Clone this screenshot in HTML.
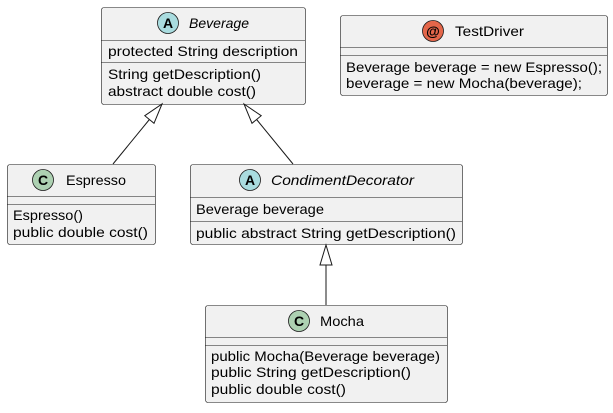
<!DOCTYPE html>
<html><head><meta charset="utf-8"><style>
html,body{margin:0;padding:0;background:#fff;}
svg text{font-family:"Liberation Sans",sans-serif;font-size:14px;fill:#000;}
</style></head><body>
<svg width="613" height="408" viewBox="0 0 613 408" xmlns="http://www.w3.org/2000/svg">
<g fill="#F1F1F1" stroke="#181818" stroke-width="0.6">
<rect x="101.5" y="7.5" width="204" height="97" rx="2.5"/>
<rect x="7.5" y="164.5" width="148" height="80" rx="2.5"/>
<rect x="190.5" y="164.5" width="272" height="80" rx="2.5"/>
<rect x="205.5" y="305.5" width="242" height="97" rx="2.5"/>
<rect x="340.5" y="15.5" width="267" height="80" rx="2.5"/>
</g>
<g stroke="#181818" stroke-width="0.6">
<line x1="101" y1="40.5" x2="305" y2="40.5"/><line x1="101" y1="62.5" x2="305" y2="62.5"/>
<line x1="7" y1="196.5" x2="155" y2="196.5"/><line x1="7" y1="204.5" x2="155" y2="204.5"/>
<line x1="190" y1="197.5" x2="462" y2="197.5"/><line x1="190" y1="221.5" x2="462" y2="221.5"/>
<line x1="205" y1="337.5" x2="447" y2="337.5"/><line x1="205" y1="345.5" x2="447" y2="345.5"/>
<line x1="340" y1="47.5" x2="607" y2="47.5"/><line x1="340" y1="55.5" x2="607" y2="55.5"/>
</g>
<g stroke="#181818" stroke-width="1" fill="none">
<line x1="113" y1="164" x2="149.4" y2="119.5"/>
<line x1="293" y1="164" x2="256.6" y2="119.5"/>
<line x1="326" y1="305" x2="326" y2="265"/>
</g>
<g stroke="#181818" stroke-width="1" fill="#fff">
<polygon points="162,104 154,123.3 144.8,115.7"/>
<polygon points="244,104 261.2,115.7 252,123.3"/>
<polygon points="326,245 320,265 332,265"/>
</g>
<g stroke="#181818" stroke-width="0.8">
<circle cx="168" cy="23" r="10.5" fill="#A9DCDF"/>
<circle cx="43" cy="180" r="10.5" fill="#ADD1B2"/>
<circle cx="250" cy="180" r="10.5" fill="#A9DCDF"/>
<circle cx="299" cy="321" r="10.5" fill="#ADD1B2"/>
<circle cx="433" cy="31" r="10.5" fill="#E3664A"/>
</g>
<g text-anchor="middle">
<text x="168" y="28" style="font-weight:bold">A</text>
<text x="43" y="185" style="font-weight:bold">C</text>
<text x="250" y="185" style="font-weight:bold">A</text>
<text x="299" y="326" style="font-weight:bold">C</text>
<text x="433" y="36" style="font-weight:bold">@</text>
</g>
<text x="189" y="28" font-style="italic" textLength="60" lengthAdjust="spacingAndGlyphs">Beverage</text>
<text x="108" y="56" textLength="190" lengthAdjust="spacingAndGlyphs">protected String description</text>
<text x="108" y="79" textLength="153" lengthAdjust="spacingAndGlyphs">String getDescription()</text>
<text x="108" y="96" textLength="148" lengthAdjust="spacingAndGlyphs">abstract double cost()</text>
<text x="66" y="185" textLength="60" lengthAdjust="spacingAndGlyphs">Espresso</text>
<text x="13" y="220" textLength="70" lengthAdjust="spacingAndGlyphs">Espresso()</text>
<text x="13" y="237" textLength="135" lengthAdjust="spacingAndGlyphs">public double cost()</text>
<text x="271" y="185" font-style="italic" textLength="143" lengthAdjust="spacingAndGlyphs">CondimentDecorator</text>
<text x="196" y="214" textLength="128" lengthAdjust="spacingAndGlyphs">Beverage beverage</text>
<text x="196" y="238" textLength="260" lengthAdjust="spacingAndGlyphs">public abstract String getDescription()</text>
<text x="320" y="326" textLength="44" lengthAdjust="spacingAndGlyphs">Mocha</text>
<text x="211" y="361" textLength="229" lengthAdjust="spacingAndGlyphs">public Mocha(Beverage beverage)</text>
<text x="211" y="377" textLength="200" lengthAdjust="spacingAndGlyphs">public String getDescription()</text>
<text x="211" y="394" textLength="135" lengthAdjust="spacingAndGlyphs">public double cost()</text>
<text x="455" y="36" textLength="69" lengthAdjust="spacingAndGlyphs">TestDriver</text>
<text x="346" y="72" textLength="256" lengthAdjust="spacingAndGlyphs">Beverage beverage = new Espresso();</text>
<text x="346" y="88" textLength="236" lengthAdjust="spacingAndGlyphs">beverage = new Mocha(beverage);</text>
</svg>
</body></html>
